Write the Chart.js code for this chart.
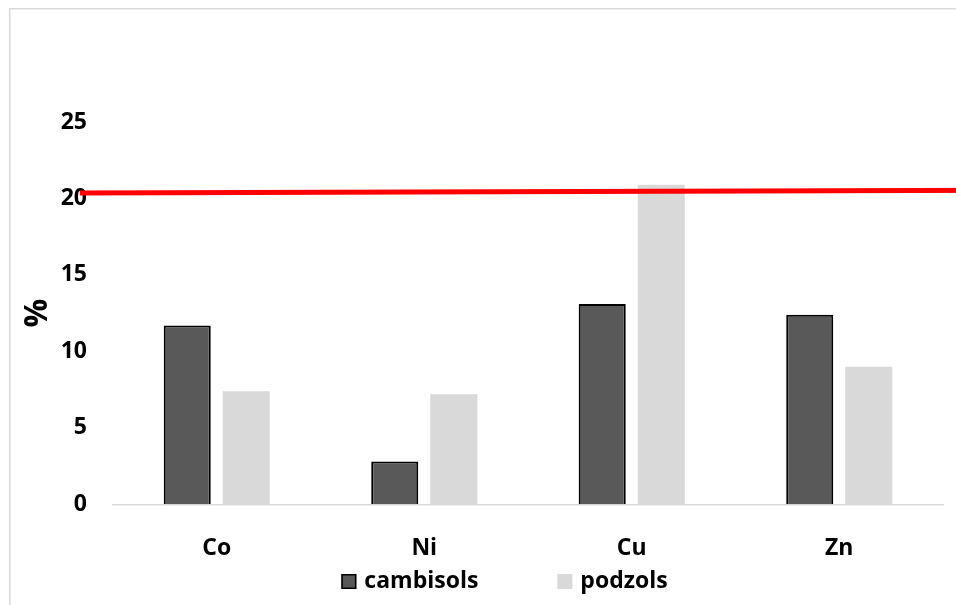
<!DOCTYPE html>
<html>
<head>
<meta charset="utf-8">
<script src="https://cdn.jsdelivr.net/npm/chart.js@4.4.1/dist/chart.umd.min.js"></script>
<style>
  html, body { margin: 0; padding: 0; background: #fff; overflow: hidden; width: 956px; height: 605px; }
  #wrap { position: absolute; left: 9px; top: 8px; width: 991px; height: 597px; }
</style>
</head>
<body>
<div id="wrap"><canvas id="c" width="991" height="597"></canvas></div>
<script>
// Metal shares (%) by soil type
const categories = ['Co', 'Ni', 'Cu', 'Zn'];
const cambisols = [11.7, 2.8, 13.1, 12.4];
const podzols = [7.4, 7.2, 20.9, 9.0];
// Reference level drawn across the plot (x in category index units)
const limitLine = [{ x: -0.66, y: 20.36 }, { x: 3.77, y: 20.53 }];
const yTicks = [0, 5, 10, 15, 20, 25];

const FONT = "'Open Sans', sans-serif";

// Thin frame along the top and left edges of the chart
const framePlugin = {
  id: 'frame',
  beforeDraw(chart) {
    const ctx = chart.ctx;
    ctx.save();
    ctx.strokeStyle = '#d9d9d9';
    ctx.lineWidth = 1.5;
    ctx.beginPath();
    ctx.moveTo(0.75, chart.height);
    ctx.lineTo(0.75, 0.75);
    ctx.lineTo(chart.width, 0.75);
    ctx.stroke();
    ctx.restore();
  }
};

// Legend row under the axis, built from the bar datasets
const legendPlugin = {
  id: 'barLegend',
  afterDraw(chart) {
    const ctx = chart.ctx;
    const items = chart.data.datasets.filter(d => d.type !== 'line');
    const box = 15, gap = 8, spacing = 79;
    ctx.save();
    ctx.font = 'bold 23px ' + FONT;
    const widths = items.map(d => box + gap + ctx.measureText(d.label).width);
    const total = widths.reduce((a, b) => a + b, 0) + spacing * (items.length - 1);
    let x = 495.5 - total / 2;
    const cy = 573.5;
    items.forEach((d, i) => {
      ctx.fillStyle = d.backgroundColor;
      ctx.fillRect(x, cy - 7.5, box, box);
      if (d.borderWidth) {
        ctx.strokeStyle = d.borderColor;
        ctx.lineWidth = 1.5;
        ctx.strokeRect(x + 0.75, cy - 6.75, box - 1.5, box - 1.5);
      }
      ctx.fillStyle = '#000';
      ctx.textBaseline = 'middle';
      ctx.textAlign = 'left';
      ctx.fillText(d.label, x + box + gap, cy);
      x += widths[i] + spacing;
    });
    ctx.restore();
  }
};

new Chart(document.getElementById('c'), {
  type: 'bar',
  data: {
    labels: categories,
    datasets: [
      {
        label: 'cambisols',
        data: cambisols,
        backgroundColor: '#595959',
        borderColor: '#000000',
        borderWidth: 2,
        categoryPercentage: 0.569,
        barPercentage: 0.797,
        order: 2
      },
      {
        label: 'podzols',
        data: podzols,
        backgroundColor: '#d9d9d9',
        borderWidth: 0,
        categoryPercentage: 0.569,
        barPercentage: 0.797,
        order: 3
      },
      {
        type: 'line',
        label: 'limit',
        data: limitLine,
        parsing: false,
        borderColor: '#ff0000',
        borderWidth: 5,
        pointRadius: 0,
        fill: false,
        clip: false,
        order: 1
      }
    ]
  },
  options: {
    responsive: false,
    devicePixelRatio: 1,
    animation: false,
    layout: { padding: { top: 114, right: 57, bottom: 0, left: 0 } },
    plugins: {
      legend: { display: false },
      tooltip: { enabled: false }
    },
    scales: {
      x: {
        type: 'category',
        offset: true,
        min: 0,
        max: 3,
        grid: { display: false, drawTicks: false },
        border: { display: true, color: '#d9d9d9', width: 1.5 },
        ticks: { color: '#000', font: { family: FONT, size: 23, weight: 'bold' }, padding: 30 },
        afterFit(s) { s.height = 100.7; }
      },
      y: {
        min: 0,
        max: 25,
        afterBuildTicks(s) { s.ticks = yTicks.map(v => ({ value: v })); },
        grid: { display: false, drawTicks: false },
        border: { display: false },
        ticks: { color: '#000', font: { family: FONT, size: 23, weight: 'bold' }, padding: 26 },
        title: {
          display: true,
          text: '%',
          color: '#000',
          font: { family: FONT, size: 32, weight: 'bold' },
          padding: { top: 10, bottom: 0 }
        },
        afterFit(s) { s.width = 104; }
      }
    }
  },
  plugins: [framePlugin, legendPlugin]
});
</script>
</body>
</html>
